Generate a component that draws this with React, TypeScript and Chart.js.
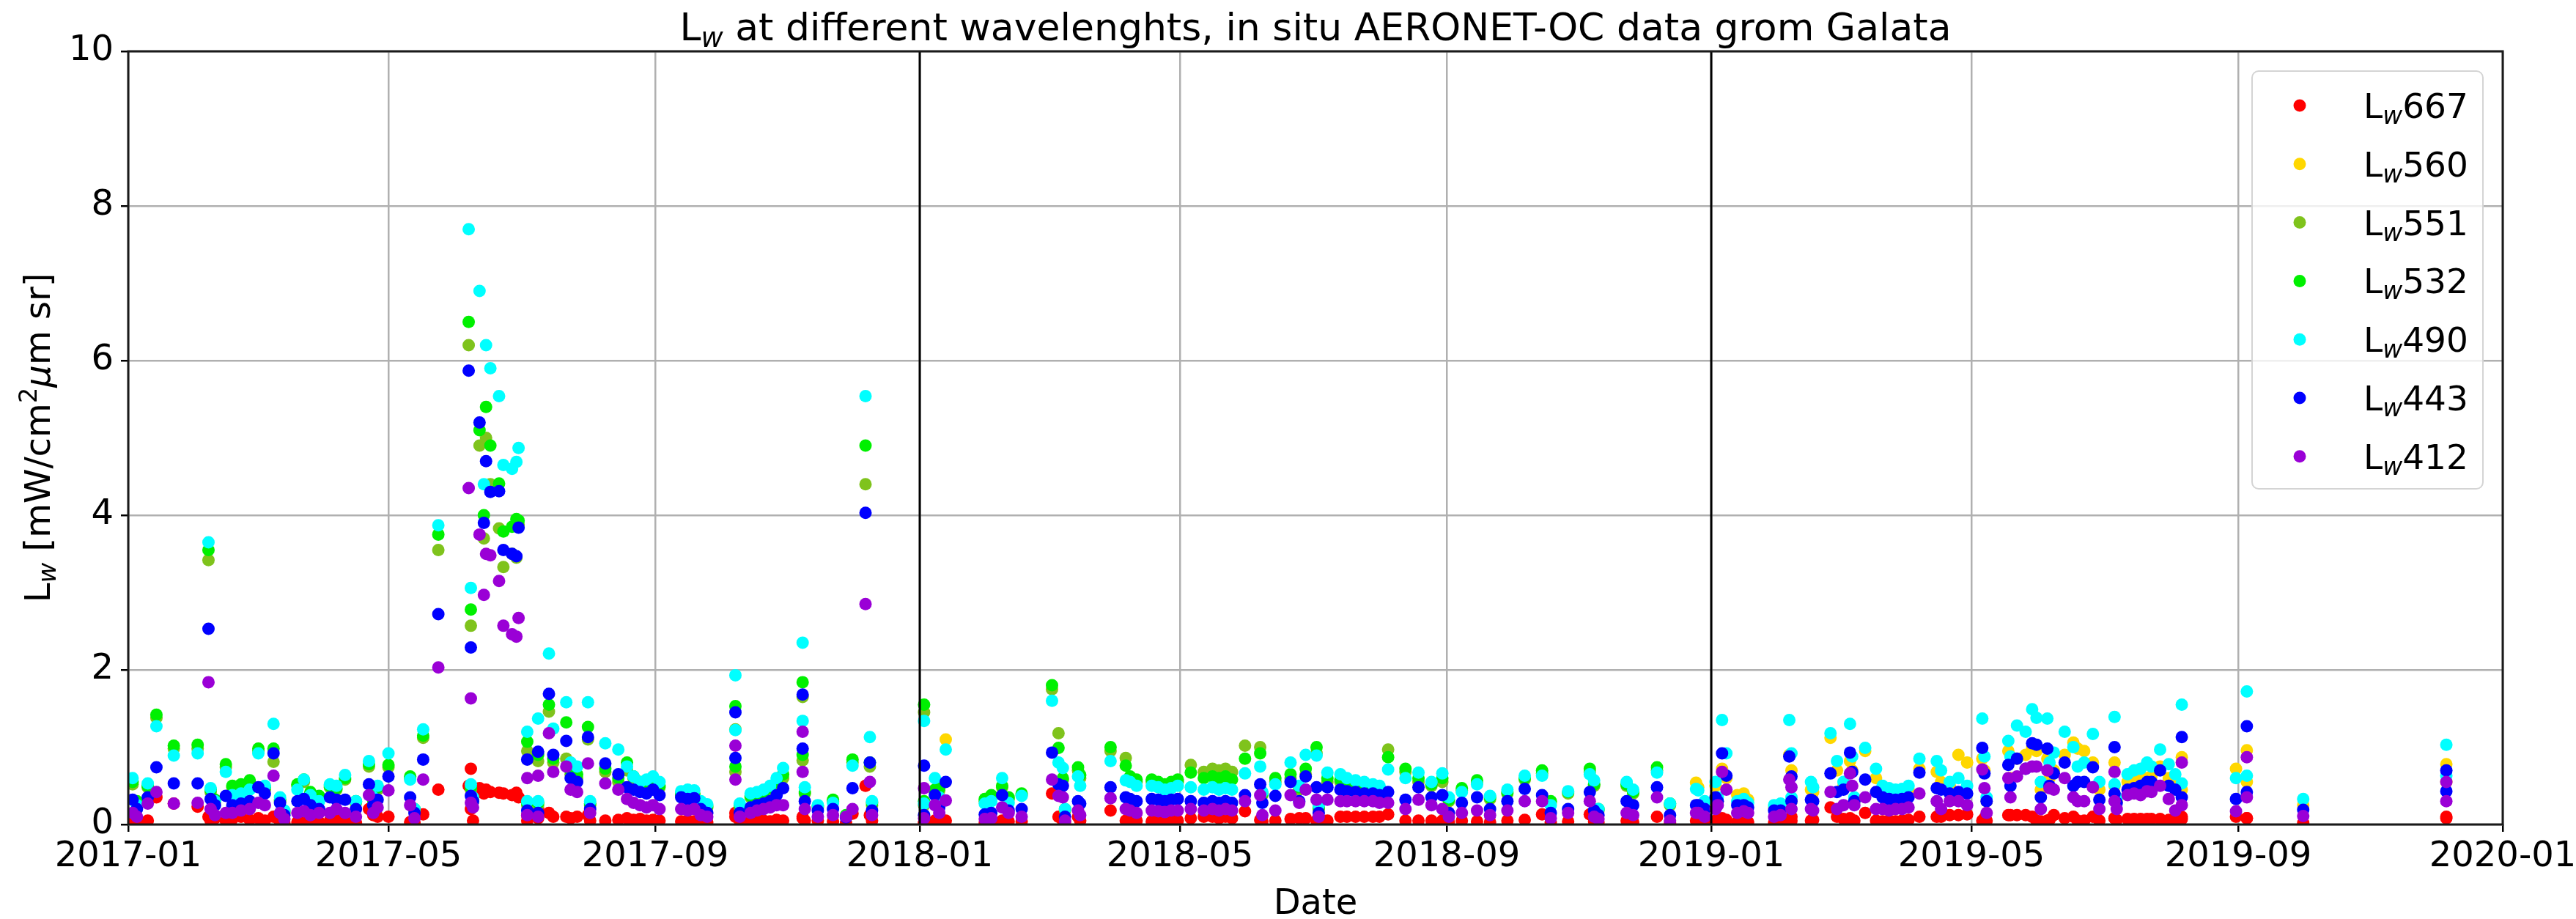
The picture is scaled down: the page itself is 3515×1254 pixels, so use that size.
import React, { useEffect, useRef } from 'react';
import { Chart, registerables } from 'chart.js';

Chart.register(...registerables);

const _ = null;

// Observation dates (one entry per measurement)
const obsDates: string[] = [
  '2017-01-03','2017-01-05','2017-01-10','2017-01-14','2017-01-22','2017-02-02','2017-02-07','2017-02-08','2017-02-10','2017-02-15',
  '2017-02-18','2017-02-22','2017-02-26','2017-03-02','2017-03-05','2017-03-09','2017-03-12','2017-03-14','2017-03-20','2017-03-23',
  '2017-03-26','2017-03-30','2017-04-04','2017-04-07','2017-04-11','2017-04-16','2017-04-22','2017-04-24','2017-04-26','2017-05-01',
  '2017-05-11','2017-05-13','2017-05-17','2017-05-24','2017-06-07','2017-06-08','2017-06-08','2017-06-09','2017-06-12','2017-06-14',
  '2017-06-15','2017-06-17','2017-06-21','2017-06-23','2017-06-27','2017-06-29','2017-06-30','2017-07-04','2017-07-04','2017-07-09',
  '2017-07-09','2017-07-14','2017-07-16','2017-07-22','2017-07-24','2017-07-27','2017-08-01','2017-08-02','2017-08-09','2017-08-15',
  '2017-08-19','2017-08-22','2017-08-25','2017-08-28','2017-08-31','2017-09-03','2017-09-13','2017-09-16','2017-09-19','2017-09-22',
  '2017-09-25','2017-10-08','2017-10-08','2017-10-10','2017-10-15','2017-10-18','2017-10-21','2017-10-24','2017-10-27','2017-10-30',
  '2017-11-08','2017-11-08','2017-11-09','2017-11-15','2017-11-22','2017-11-28','2017-12-01','2017-12-07','2017-12-09','2017-12-10',
  '2018-01-03','2018-01-03','2018-01-08','2018-01-10','2018-01-13','2018-01-31','2018-02-03','2018-02-08','2018-02-11','2018-02-17',
  '2018-03-03','2018-03-06','2018-03-08','2018-03-09','2018-03-15','2018-03-16','2018-03-30','2018-04-06','2018-04-08','2018-04-11',
  '2018-04-18','2018-04-21','2018-04-24','2018-04-27','2018-04-30','2018-05-06','2018-05-12','2018-05-16','2018-05-19','2018-05-22',
  '2018-05-25','2018-05-31','2018-06-07','2018-06-08','2018-06-14','2018-06-21','2018-06-25','2018-06-28','2018-07-03','2018-07-04',
  '2018-07-08','2018-07-14','2018-07-17','2018-07-21','2018-07-25','2018-07-29','2018-08-01','2018-08-05','2018-08-13','2018-08-19',
  '2018-08-25','2018-08-30','2018-09-02','2018-09-08','2018-09-15','2018-09-21','2018-09-29','2018-10-07','2018-10-15','2018-10-19',
  '2018-10-27','2018-11-06','2018-11-08','2018-11-10','2018-11-23','2018-11-26','2018-12-07','2018-12-13','2018-12-25','2018-12-26',
  '2018-12-29','2019-01-03','2019-01-04','2019-01-06','2019-01-08','2019-01-13','2019-01-16','2019-01-18','2019-01-30','2019-02-02',
  '2019-02-06','2019-02-07','2019-02-07','2019-02-16','2019-02-17','2019-02-25','2019-02-28','2019-03-03','2019-03-06','2019-03-07',
  '2019-03-08','2019-03-13','2019-03-18','2019-03-21','2019-03-24','2019-03-27','2019-03-30','2019-04-02','2019-04-07','2019-04-15',
  '2019-04-17','2019-04-21','2019-04-25','2019-04-29','2019-05-06','2019-05-07','2019-05-08','2019-05-18','2019-05-19','2019-05-22',
  '2019-05-26','2019-05-29','2019-05-31','2019-06-02','2019-06-05','2019-06-06','2019-06-08','2019-06-13','2019-06-17','2019-06-19',
  '2019-06-22','2019-06-26','2019-06-29','2019-07-06','2019-07-06','2019-07-07','2019-07-12','2019-07-15','2019-07-18','2019-07-21',
  '2019-07-23','2019-07-27','2019-07-31','2019-08-03','2019-08-06','2019-08-06','2019-08-31','2019-09-05','2019-09-05','2019-10-01',
  '2019-12-06','2019-12-06',
];

const lw667 = [
  .03,.02,.05,.35,.27,.23,.10,.05,.08,.05,
  .07,.10,.06,.08,.05,.10,.03,.02,.03,.04,
  .03,.03,.05,.06,.05,.02,.20,.12,.10,.10,
  .03,.02,.13,.45,.50,.72,.20,.05,.47,.40,
  .45,.42,.41,.40,.38,.41,.35,.12,.05,.20,
  .08,.15,.10,.10,.08,.10,.12,.05,.05,.06,
  .08,.06,.07,.05,.06,.05,.04,.05,.04,.03,
  .03,.15,.10,.05,.05,.06,.05,.04,.06,.05,
  .10,.08,.05,.05,.04,.02,.14,.50,.12,.05,
  .03,.02,.05,.05,.05,.02,.03,.05,.04,.04,
  .40,.10,.05,.03,.10,.05,.18,.05,.05,.05,
  .04,.04,.05,.04,.05,.08,.10,.10,.08,.10,
  .08,.17,.06,.04,.05,.07,.08,.08,.05,.04,
  .05,.10,.10,.10,.10,.10,.10,.13,.05,.05,
  .05,.05,.03,.05,.04,.03,.05,.06,.13,.03,
  .04,.13,.04,.03,.05,.03,.10,.02,.05,.04,
  .03,.05,.05,.08,.06,.03,.04,.03,.02,.03,
  .05,.10,.05,.05,.06,.22,.10,.07,.08,.05,
  .05,.15,.05,.04,.05,.04,.05,.06,.10,.10,
  .10,.12,.12,.13,.05,.08,.05,.12,.12,.12,
  .12,.10,.05,.04,.05,.06,.12,.08,.10,.05,
  .05,.10,.05,.08,.08,.06,.07,.07,.07,.07,
  .07,.07,.06,.05,.07,.10,.10,.08,.08,.02,
  .08,.10,
];

const lw560 = [
  _,_,_,_,_,_,_,_,_,_,
  _,_,_,_,_,_,_,_,_,_,
  _,_,_,_,_,_,_,_,_,_,
  _,_,_,_,_,_,_,_,_,_,
  _,_,_,_,_,_,_,_,_,_,
  _,_,_,_,_,_,_,_,_,_,
  _,_,_,_,_,_,_,_,_,_,
  _,_,_,_,_,_,_,_,_,_,
  _,_,_,_,_,_,_,_,_,_,
  _,_,_,_,1.10,_,_,_,_,_,
  _,_,_,_,_,_,_,_,_,_,
  _,_,_,_,_,_,_,_,_,_,
  _,_,_,_,_,_,_,_,_,_,
  _,_,_,_,_,_,_,_,_,_,
  _,_,_,_,_,_,_,_,_,_,
  _,_,_,_,_,_,_,_,.54,.48,
  .28,.50,.30,.72,.60,.38,.40,.32,.22,.25,
  .90,.70,.30,.45,.42,1.12,.70,.50,.82,.70,
  .30,.95,.60,.45,.42,.40,.42,.45,.72,.68,
  .55,.50,.90,.80,.85,.70,.30,.95,.60,.85,
  .90,1.00,.95,.45,.85,.60,.70,.90,1.06,.98,
  .95,.80,.45,.80,.50,.30,.55,.57,.58,.60,
  .62,.75,.60,.55,.87,.45,.72,.96,.55,.25,
  .78,.55,
];

const lw551 = [
  .52,.28,.48,1.38,.98,.98,3.42,.42,.30,.74,
  .48,.50,.55,.95,.45,.81,.30,.15,.50,.55,
  .40,.35,.48,.45,.58,.28,.75,.30,.45,.74,
  .60,.18,1.12,3.55,6.20,2.57,.45,.30,4.90,3.70,
  5.00,4.40,3.83,3.33,3.50,3.45,3.88,.95,.25,.82,
  .25,1.46,.80,.85,.65,.60,1.10,.25,.68,.55,
  .70,.60,.50,.50,.52,.48,.38,.40,.38,.25,
  .22,1.23,.68,.22,.35,.36,.38,.45,.50,.60,
  1.65,.83,.40,.22,.30,.10,.80,4.40,.75,.25,
  1.45,.25,.42,.44,_,.30,.35,.48,.33,.38,
  1.75,1.18,.58,.18,.70,.60,.95,.86,.60,.55,
  .55,.52,.50,.52,.55,.77,.68,.72,.70,.72,
  .68,1.02,1.00,.38,.55,.60,.45,.65,.92,.20,
  .55,.55,.52,.50,.48,.46,.45,.97,.68,.55,
  .50,.55,.30,.44,.54,.33,.40,.58,.66,.28,
  .40,.68,.50,.18,.50,.40,.70,.25,_,_,
  _,_,_,_,_,_,_,_,_,_,
  _,_,_,_,_,_,_,_,_,_,
  _,_,_,_,_,_,_,_,_,_,
  _,_,_,_,_,_,_,_,_,_,
  _,_,_,_,_,_,_,_,_,_,
  _,_,_,_,_,_,_,_,_,_,
  _,_,_,_,_,_,_,_,_,_,
  _,_,
];

const lw532 = [
  .55,.30,.50,1.42,1.02,1.03,3.55,.45,.32,.78,
  .50,.52,.57,.98,.48,.98,.32,.17,.52,.58,
  .42,.37,.50,.47,.60,.30,.78,.32,.48,.77,
  .62,.20,1.15,3.75,6.50,2.78,.48,.32,5.10,4.00,
  5.40,4.90,4.41,3.79,3.85,3.95,3.93,1.07,.28,.90,
  .28,1.55,.85,1.32,.70,.65,1.26,.27,.72,.60,
  .80,.62,.55,.52,.55,.50,.40,.42,.40,.27,
  .24,1.53,.75,.25,.37,.40,.42,.48,.55,.65,
  1.84,.90,.42,.24,.32,.12,.84,4.90,.80,.28,
  1.55,.30,.45,.47,_,.33,.38,.50,.35,.40,
  1.80,.99,.60,.20,.74,.64,1.00,.76,.62,.58,
  .58,.55,.52,.55,.58,.67,.60,.62,.60,.62,
  .58,.85,.92,.40,.60,.65,.48,.72,1.00,.22,
  .60,.58,.55,.52,.50,.48,.47,.87,.72,.60,
  .52,.60,.32,.47,.57,.35,.42,.60,.70,.30,
  .42,.72,.52,.20,.52,.42,.74,.27,_,_,
  _,_,_,_,_,_,_,_,_,_,
  _,_,_,_,_,_,_,_,_,_,
  _,_,_,_,_,_,_,_,_,_,
  _,_,_,_,_,_,_,_,_,_,
  _,_,_,_,_,_,_,_,_,_,
  _,_,_,_,_,_,_,_,_,_,
  _,_,_,_,_,_,_,_,_,_,
  _,_,
];

const lw490 = [
  .60,.25,.53,1.27,.89,.92,3.65,.47,.30,.68,
  .38,.40,.45,.92,.50,1.30,.35,.18,.45,.58,
  .38,.30,.52,.50,.64,.30,.82,.35,.50,.92,
  .58,.20,1.23,3.87,7.70,3.06,.52,.35,6.90,4.40,
  6.20,5.90,5.54,4.65,4.60,4.69,4.87,1.20,.30,1.37,
  .30,2.21,1.24,1.58,.80,.75,1.58,.30,1.05,.97,
  .75,.62,.55,.58,.62,.55,.43,.45,.44,.30,
  .26,1.93,1.22,.27,.40,.42,.45,.50,.60,.73,
  2.35,1.34,.48,.25,.28,.10,.76,5.54,1.13,.30,
  1.34,.27,.60,.35,.97,.27,.30,.60,.28,.37,
  1.60,.80,.73,.20,.62,.50,.82,.57,.55,.50,
  .50,.48,.45,.47,.50,.48,.45,.48,.45,.47,
  .45,.66,.75,.42,.52,.80,.50,.90,.89,.25,
  .67,.65,.60,.57,.55,.52,.50,.71,.60,.67,
  .55,.66,.35,.42,.52,.37,.45,.63,.63,.25,
  .43,.65,.57,.20,.55,.45,.67,.27,.46,.44,
  .30,.55,.35,1.35,.92,.30,.33,.28,.25,.27,
  1.35,.92,.35,.55,.48,1.18,.82,.55,1.30,.88,
  .35,.99,.72,.50,.47,.45,.46,.50,.85,.82,
  .70,.55,.60,.50,1.37,.88,.35,1.08,.88,1.28,
  1.20,1.49,1.38,.55,1.37,.80,.93,1.20,1.00,.75,
  .80,1.17,.55,1.39,.52,.35,.65,.70,.72,.80,
  .75,.97,.78,.65,1.55,.53,.60,1.72,.63,.33,
  1.03,.63,
];

const lw443 = [
  .32,.20,.35,.74,.53,.53,2.53,.33,.25,.37,
  .25,.27,.30,.48,.40,.92,.28,.12,.30,.33,
  .25,.20,.35,.32,.32,.20,.52,.25,.32,.62,
  .35,.15,.84,2.72,5.87,2.29,.37,.30,5.20,3.90,
  4.70,4.30,4.31,3.55,3.50,3.47,3.84,.84,.18,.94,
  .15,1.69,.90,1.08,.60,.55,1.13,.20,.79,.65,
  .48,.45,.42,.40,.45,.38,.35,.33,.34,.20,
  .15,1.45,.86,.15,.22,.25,.27,.30,.38,.47,
  1.68,.98,.30,.18,.20,.09,.47,4.03,.80,.18,
  .76,.12,.38,.22,.55,.13,.15,.38,.18,.20,
  .93,.52,.50,.10,.30,.27,.48,.35,.33,.30,
  .33,.32,.30,.32,.33,.30,.28,.30,.28,.30,
  .28,.38,.52,.28,.37,.55,.30,.62,.48,.15,
  .48,.45,.43,.42,.40,.40,.38,.42,.32,.48,
  .35,.38,.15,.28,.35,.20,.30,.46,.38,.15,
  .20,.42,.18,.12,.30,.25,.48,.12,.25,.25,
  .20,.35,.30,.92,.63,.25,.25,.22,.18,.18,
  .88,.62,.30,.32,.30,.66,.42,.45,.93,.68,
  .30,.58,.42,.35,.33,.32,.33,.35,.67,.47,
  .45,.40,.42,.40,.99,.66,.30,.77,.50,.85,
  .72,1.05,1.03,.35,.98,.50,.66,.80,.50,.55,
  .55,.74,.32,1.00,.40,.28,.45,.47,.50,.55,
  .55,.70,.50,.45,1.13,.35,.33,1.27,.42,.19,
  .70,.43,
];

const lw412 = [
  .15,.10,.27,.42,.27,.28,1.84,.20,.12,.15,
  .15,.18,.20,.28,.25,.63,.15,.07,.15,.17,
  .12,.15,.15,.20,.15,.10,.38,.15,.22,.44,
  .25,.08,.58,2.03,4.35,1.63,.28,.22,3.75,2.97,
  3.50,3.48,3.15,2.57,2.46,2.43,2.67,.60,.12,.63,
  .10,1.18,.68,.75,.45,.42,.79,.15,.53,.45,
  .33,.28,.25,.22,.25,.20,.20,.18,.20,.12,
  .10,1.02,.58,.10,.15,.18,.20,.22,.25,.25,
  1.20,.68,.20,.10,.12,.10,.20,2.85,.55,.12,
  .47,.08,.25,.15,.31,.07,.08,.22,.15,.10,
  .58,.37,.35,.05,.18,.12,.34,.20,.18,.15,
  .18,.17,.16,.18,.18,.20,.18,.20,.18,.20,
  .18,.30,.38,.12,.18,.38,.28,.45,.32,.10,
  .32,.30,.30,.30,.30,.30,.28,.28,.20,.32,
  .25,.20,.10,.15,.18,.12,.18,.30,.30,.08,
  .15,.30,.10,.07,.15,.12,.35,.05,.15,.15,
  .10,.20,.25,.68,.45,.15,.17,.15,.10,.12,
  .58,.48,.20,.20,.18,.42,.20,.25,.66,.50,
  .25,.35,.20,.20,.18,.20,.20,.22,.40,.30,
  .20,.30,.30,.25,.71,.47,.15,.60,.35,.62,
  .72,.75,.75,.20,.70,.47,.45,.60,.35,.30,
  .30,.48,.20,.68,.30,.20,.38,.40,.38,.43,
  .42,.50,.33,.18,.80,.25,.17,.87,.35,.11,
  .55,.30,
];

const seriesWavelengths = ['667', '560', '551', '532', '490', '443', '412'];
const seriesColors = ['#ff0000', '#ffd700', '#7fc31c', '#00f000', '#00ffff', '#0000ff', '#9a00d6'];
const seriesValues = [lw667, lw560, lw551, lw532, lw490, lw443, lw412];

const xTickLabels = ['2017-01', '2017-05', '2017-09', '2018-01', '2018-05', '2018-09', '2019-01', '2019-05', '2019-09', '2020-01'];
const yearLineDates = ['2018-01-01', '2019-01-01'];
const titleRest = ' at different wavelenghts, in situ AERONET-OC data grom Galata';
const xAxisTitle = 'Date';

const ORIGIN = Date.parse('2017-01-01');
const toDay = (s: string) => (Date.parse(s) - ORIGIN) / 86400000;
const xTickValues = xTickLabels.map((l) => toDay(l + '-01'));

const FONT = "'DejaVu Sans', 'Noto Sans', sans-serif";
type Part = { t: string; size: number; italic?: boolean; dy?: number };
const partFont = (p: Part) => `${p.italic ? 'italic ' : ''}${p.size}px ${FONT}`;

function drawParts(ctx: CanvasRenderingContext2D, parts: Part[], x: number, y: number, align: 'left' | 'center') {
  let total = 0;
  for (const p of parts) {
    ctx.font = partFont(p);
    total += ctx.measureText(p.t).width;
  }
  let cx = align === 'center' ? x - total / 2 : x;
  ctx.textAlign = 'left';
  ctx.textBaseline = 'alphabetic';
  for (const p of parts) {
    ctx.font = partFont(p);
    ctx.fillText(p.t, cx, y + (p.dy || 0));
    cx += ctx.measureText(p.t).width;
  }
}

const decorPlugin = {
  id: 'decor',
  afterDraw(chart: any) {
    const { ctx, chartArea: a, scales } = chart;
    const xs = scales.x;
    ctx.save();
    // vertical year separators
    ctx.strokeStyle = '#000';
    ctx.lineWidth = 3;
    for (const d of yearLineDates) {
      const px = Math.round(xs.getPixelForValue(toDay(d)));
      ctx.beginPath();
      ctx.moveTo(px, a.top);
      ctx.lineTo(px, a.bottom);
      ctx.stroke();
    }
    // frame
    ctx.strokeStyle = '#1a1a1a';
    ctx.lineWidth = 3;
    ctx.strokeRect(a.left, a.top, a.right - a.left, a.bottom - a.top);

    ctx.fillStyle = '#000';
    const cxm = (a.left + a.right) / 2;
    // title
    drawParts(ctx, [
      { t: 'L', size: 52 },
      { t: 'w', size: 37, italic: true, dy: 9 },
      { t: titleRest, size: 52 },
    ], cxm, 55, 'center');
    // x axis title
    drawParts(ctx, [{ t: xAxisTitle, size: 48 }], cxm, 1247, 'center');
    // y axis title
    ctx.save();
    ctx.translate(68, (a.top + a.bottom) / 2);
    ctx.rotate(-Math.PI / 2);
    drawParts(ctx, [
      { t: 'L', size: 48 },
      { t: 'w', size: 34, italic: true, dy: 8 },
      { t: ' [mW/cm', size: 48 },
      { t: '2', size: 34, dy: -18 },
      { t: 'μ', size: 48, italic: true },
      { t: 'm sr]', size: 48 },
    ], 0, 0, 'center');
    ctx.restore();

    // legend
    const lx = a.right - 342;
    const ly = a.top + 27;
    const lw = 315;
    const lh = 570;
    ctx.beginPath();
    (ctx as any).roundRect(lx, ly, lw, lh, 9);
    ctx.fillStyle = 'rgba(255,255,255,0.8)';
    ctx.fill();
    ctx.strokeStyle = '#d4d4d4';
    ctx.lineWidth = 2;
    ctx.stroke();
    seriesWavelengths.forEach((wl, i) => {
      const cy = ly + 47 + i * 79.8;
      ctx.beginPath();
      ctx.arc(lx + 65, cy, 8.5, 0, Math.PI * 2);
      ctx.fillStyle = seriesColors[i];
      ctx.fill();
      ctx.fillStyle = '#000';
      drawParts(ctx, [
        { t: 'L', size: 47 },
        { t: 'w', size: 33, italic: true, dy: 8 },
        { t: wl, size: 47 },
      ], lx + 152, cy + 17, 'left');
    });
    ctx.restore();
  },
};

export default function App() {
  const ref = useRef<HTMLCanvasElement>(null);
  useEffect(() => {
    const canvas = ref.current;
    if (!canvas) return;
    const datasets = seriesWavelengths.map((wl, i) => {
      const vals = seriesValues[i];
      const data: { x: number; y: number }[] = [];
      obsDates.forEach((d, k) => {
        const v = vals[k];
        if (v !== null && v !== undefined) data.push({ x: toDay(d), y: v as number });
      });
      return {
        label: 'Lw' + wl,
        data,
        order: seriesWavelengths.length - 1 - i,
        backgroundColor: seriesColors[i],
        borderColor: seriesColors[i],
        pointRadius: 8.5,
        pointHoverRadius: 8.5,
        pointBorderWidth: 0,
        showLine: false,
      };
    });
    const tickFont = { family: FONT, size: 48 };
    const chart = new Chart(canvas, {
      type: 'scatter',
      data: { datasets },
      plugins: [decorPlugin],
      options: {
        responsive: false,
        animation: false,
        devicePixelRatio: 1,
        events: [],
        layout: { padding: { top: 70, right: 100, left: 0, bottom: 0 } },
        plugins: {
          legend: { display: false },
          title: { display: false },
          tooltip: { enabled: false },
        },
        scales: {
          x: {
            type: 'linear',
            min: 0,
            max: xTickValues[xTickValues.length - 1],
            z: 1,
            afterBuildTicks: (s: any) => {
              s.ticks = xTickValues.map((v) => ({ value: v }));
            },
            afterFit: (s: any) => {
              s.height = 129;
              s.paddingLeft = 0;
              s.paddingRight = 0;
            },
            ticks: {
              autoSkip: false,
              maxRotation: 0,
              minRotation: 0,
              padding: 6,
              color: '#000',
              font: tickFont,
              callback: (v: any) => {
                const idx = xTickValues.findIndex((t) => Math.abs(t - Number(v)) < 0.5);
                return idx >= 0 ? xTickLabels[idx] : '';
              },
            },
            grid: { color: '#b0b0b0', lineWidth: 2.5, tickLength: 10, tickColor: '#000', tickWidth: 2.5 },
            border: { display: false },
          },
          y: {
            type: 'linear',
            min: 0,
            max: 10,
            z: 1,
            afterFit: (s: any) => {
              s.width = 175;
              s.paddingTop = 0;
              s.paddingBottom = 0;
            },
            ticks: { stepSize: 2, padding: 10, color: '#000', font: tickFont },
            grid: { color: '#b0b0b0', lineWidth: 2.5, tickLength: 10, tickColor: '#000', tickWidth: 2.5 },
            border: { display: false },
          },
        },
      } as any,
    });
    return () => chart.destroy();
  }, []);
  return (
    <div style={{ position: 'absolute', left: 0, top: 0, width: 3515, height: 1254, background: '#fff' }}>
      <canvas ref={ref} width={3515} height={1254} style={{ display: 'block', width: 3515, height: 1254 }} />
    </div>
  );
}
